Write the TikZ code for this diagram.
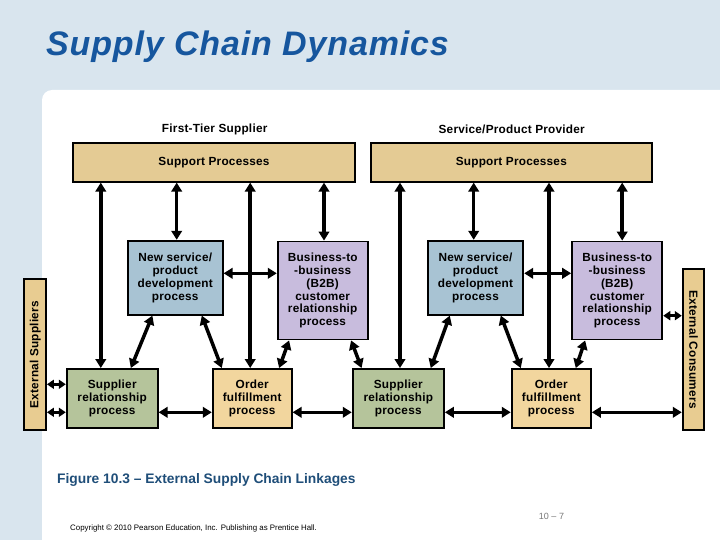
\documentclass[tikz,border=0pt]{standalone}
\usepackage{fontspec}
\setmainfont{Liberation Sans}
\newfontfamily\titlefont[LetterSpace=2.5]{Liberation Sans}
\newfontfamily\boxfont[LetterSpace=2]{Liberation Sans}
\usetikzlibrary{arrows.meta}
\definecolor{bgblue}{RGB}{217,229,238}
\definecolor{titleblue}{RGB}{22,86,158}
\definecolor{capblue}{RGB}{31,78,121}
\definecolor{supfill}{RGB}{228,203,148}
\definecolor{offill}{RGB}{242,214,158}
\definecolor{extfill}{RGB}{232,204,145}
\definecolor{nsfill}{RGB}{168,195,211}
\definecolor{lavfill}{RGB}{200,188,221}
\definecolor{grnfill}{RGB}{181,196,155}
\definecolor{numgray}{RGB}{120,120,120}
\begin{document}
\begin{tikzpicture}[x=1pt,y=-1pt,
  box/.style={draw=black,line width=1.8pt,inner sep=0pt,align=center,
    font=\boxfont\fontsize{11.8}{12.9}\selectfont\bfseries},
  dbl/.style={line width=3.5pt,{Triangle[length=9pt,width=10.5pt]}-{Triangle[length=9pt,width=10.5pt]}},
  sdbl/.style={line width=3.5pt,{Triangle[length=7pt,width=9pt]}-{Triangle[length=7pt,width=9pt]}},
  lbl/.style={font=\boxfont\fontsize{11.8}{13}\selectfont\bfseries,inner sep=0pt}
]
\useasboundingbox (0,0) rectangle (720,540);
\fill[bgblue] (0,0) rectangle (720,540);
\fill[white,rounded corners=10pt] (42,560) -- (42,90) -- (740,90) -- (740,560) -- cycle;

% title and footer
\node[anchor=base west,inner sep=0pt,text=titleblue,font=\titlefont\fontsize{34}{38}\selectfont\bfseries\itshape] (title) at (46,56) {Supply Chain Dynamics};
\node[anchor=west,inner sep=0pt,text=capblue,font=\fontsize{13.8}{15}\selectfont\bfseries] (cap) at (57,480) {Figure 10.3 – External Supply Chain Linkages};
\node[inner sep=0pt,text=numgray,font=\fontsize{9}{10}\selectfont] (pg) at (551.5,516) {10 – 7};
\node[anchor=west,inner sep=0pt,font=\fontsize{7.9}{8}\selectfont] (copy) at (70,528) {Copyright © 2010 Pearson Education, Inc. Publishing as Prentice Hall.};

% headings
\node[lbl] (h1) at (214.7,129) {First-Tier Supplier};
\node[lbl] (h2) at (511.7,129) {Service/Product Provider};

% boxes
\node[box,fill=supfill,minimum width=282pt,minimum height=39pt] (supL) at (214,162.2) {Support Processes};
\node[box,fill=supfill,minimum width=281.3pt,minimum height=39pt] (supR) at (511.3,162.2) {Support Processes};
\node[box,fill=nsfill,minimum width=95pt,minimum height=74pt] (nsL) at (175.2,277.7) {New service/\\product\\development\\process};
\node[box,fill=lavfill,minimum width=90pt,minimum height=98pt] (b2bL) at (322.7,290.5) {Business-to\\-business\\(B2B)\\customer\\relationship\\process};
\node[box,fill=grnfill,minimum width=91pt,minimum height=58.7pt] (srL) at (112.2,398.3) {Supplier\\relationship\\process};
\node[box,fill=offill,minimum width=79pt,minimum height=58.7pt] (ofL) at (252.2,398.3) {Order\\fulfillment\\process};
\node[box,fill=nsfill,minimum width=95.6pt,minimum height=74pt] (nsR) at (475.5,277.7) {New service/\\product\\development\\process};
\node[box,fill=lavfill,minimum width=90.3pt,minimum height=98pt] (b2bR) at (617.2,290.5) {Business-to\\-business\\(B2B)\\customer\\relationship\\process};
\node[box,fill=grnfill,minimum width=91.3pt,minimum height=58.7pt] (srR) at (398.3,398.3) {Supplier\\relationship\\process};
\node[box,fill=offill,minimum width=79.3pt,minimum height=58.7pt] (ofR) at (551.3,398.3) {Order\\fulfillment\\process};
\node[box,fill=extfill,minimum width=21.7pt,minimum height=151.3pt] (extS) at (35.2,354.7) {};
\node[lbl,rotate=90] (extSt) at (extS.center) {External Suppliers};
\node[box,fill=extfill,minimum width=21.6pt,minimum height=161pt] (extC) at (693.5,349.5) {};
\node[lbl,rotate=-90] (extCt) at (extC.center) {External Consumers};

% vertical arrows, left
\draw[dbl] ([xshift=35pt]srL.north west) -- ([xshift=35pt]srL.north west |- supL.south);
\draw[dbl] ([xshift=1.5pt]nsL.north) -- ([xshift=1.5pt]nsL.north |- supL.south);
\draw[dbl] ([xshift=-2pt]ofL.north) -- ([xshift=-2pt]ofL.north |- supL.south);
\draw[dbl] ([xshift=1.3pt]b2bL.north) -- ([xshift=1.3pt]b2bL.north |- supL.south);
% vertical arrows, right
\draw[dbl] ([xshift=1.7pt]srR.north) -- ([xshift=1.7pt]srR.north |- supR.south);
\draw[dbl] ([xshift=-1.8pt]nsR.north) -- ([xshift=-1.8pt]nsR.north |- supR.south);
\draw[dbl] ([xshift=-2.3pt]ofR.north) -- ([xshift=-2.3pt]ofR.north |- supR.south);
\draw[dbl] ([xshift=5pt]b2bR.north) -- ([xshift=5pt]b2bR.north |- supR.south);

% horizontal upper
\draw[dbl] ([yshift=4.4pt]nsL.east) -- ([yshift=4.4pt]nsL.east -| b2bL.west);
\draw[dbl] ([yshift=4.4pt]nsR.east) -- ([yshift=4.4pt]nsR.east -| b2bR.west);

% diagonals
\draw[dbl] ([xshift=25.6pt]nsL.south west) -- ([xshift=65pt]srL.north west);
\draw[dbl] ([xshift=75pt]nsL.south west) -- ([xshift=10pt]ofL.north west);
\draw[dbl] ([xshift=12.3pt]b2bL.south west) -- ([xshift=67.3pt]ofL.north west);
\draw[dbl] ([xshift=74.3pt]b2bL.south west) -- ([xshift=9.8pt]srR.north west);
\draw[dbl] ([xshift=23pt]nsR.south west) -- ([xshift=79pt]srR.north west);
\draw[dbl] ([xshift=74pt]nsR.south west) -- ([xshift=10pt]ofR.north west);
\draw[dbl] ([xshift=14pt]b2bR.south west) -- ([xshift=65pt]ofR.north west);

% horizontal lower
\draw[dbl] ([yshift=-14pt]srL.east) -- ([yshift=-14pt]ofL.west);
\draw[dbl] ([yshift=-14pt]ofL.east) -- ([yshift=-14pt]srR.west);
\draw[dbl] ([yshift=-14pt]srR.east) -- ([yshift=-14pt]ofR.west);
\draw[dbl] ([yshift=-14pt]ofR.east) -- ([yshift=-14pt]ofR.east -| extC.west);
\draw[sdbl] ([yshift=14pt]srL.west) -- ([yshift=14pt]srL.west -| extS.east);
\draw[sdbl] ([yshift=-14pt]srL.west) -- ([yshift=-14pt]srL.west -| extS.east);
\draw[sdbl] ([yshift=-25.2pt]b2bR.east) -- ([yshift=-25.2pt]b2bR.east -| extC.west);
\end{tikzpicture}
\end{document}
